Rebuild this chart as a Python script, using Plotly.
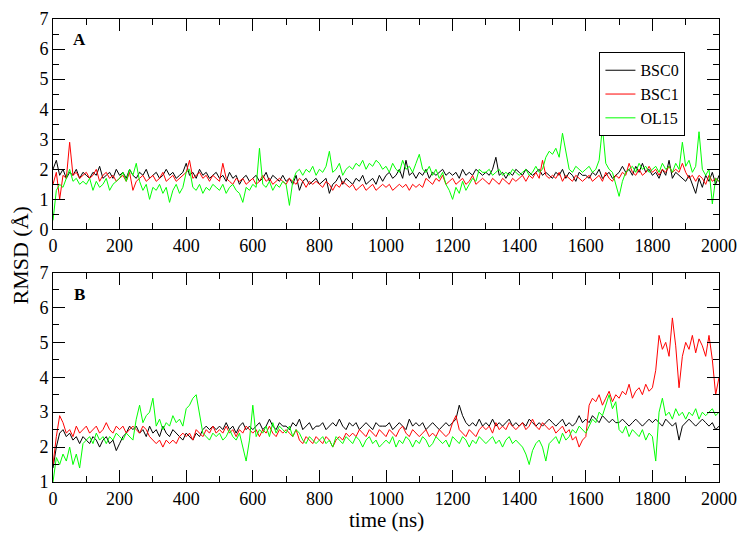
import plotly.graph_objects as go

time_ns = list(range(0, 2001, 10))

a_bsc0 = [
    2.0, 2.3, 1.8, 2.0, 1.7, 1.9, 1.8, 2.0, 1.7, 1.9,
    1.8, 1.7, 1.9, 1.8, 2.1, 1.7, 1.8, 1.9, 1.7, 2.0,
    1.8, 1.9, 1.7, 2.0, 1.8, 1.7, 1.9, 1.8, 2.0, 1.7,
    1.8, 1.9, 1.7, 1.8, 2.0, 1.8, 1.9, 1.7, 1.8, 1.9,
    2.2, 1.8, 1.9, 1.7, 2.0, 1.8, 1.9, 1.7, 1.8, 1.9,
    1.7, 1.8, 1.6, 1.9, 1.7, 1.8, 1.5, 1.7, 1.8, 1.6,
    1.7, 1.8, 1.6, 1.7, 1.9, 1.6, 1.8, 1.7, 1.6, 1.8,
    1.6, 1.7, 1.5, 1.8, 1.3, 1.6, 1.7, 1.5, 1.6, 1.7,
    1.5, 1.6, 1.7, 1.2, 1.5, 1.6, 1.8, 1.5, 1.7, 1.6,
    1.5, 1.7, 1.6, 1.8, 1.5, 1.6, 1.7, 1.5, 1.8, 1.6,
    1.8, 1.9, 1.7, 1.8, 2.0, 1.7, 2.3, 1.8, 1.9, 1.7,
    1.9, 1.8, 2.0, 1.7, 1.9, 1.8, 1.9, 2.0, 1.8, 1.9,
    1.8, 1.9, 1.7, 2.0, 1.8, 1.9, 1.8, 2.0, 1.9, 1.8,
    1.9, 1.8, 2.0, 2.4, 1.8, 1.9, 1.7, 1.9, 1.8, 2.0,
    1.9, 1.8, 2.0, 1.9, 1.8, 1.9, 2.0, 1.8, 1.9, 1.8,
    1.7, 1.9, 1.8, 2.0, 1.7, 1.9, 1.8, 1.6, 1.9, 1.8,
    1.8, 1.7, 1.9, 1.8, 2.0, 1.7, 1.8, 1.9, 1.7, 1.8,
    1.9, 2.1, 1.9, 2.0, 1.8, 2.1, 1.9, 2.2, 1.9, 2.0,
    1.8, 1.9, 1.7, 2.0, 1.8, 2.3, 1.7, 1.9, 1.8, 1.7,
    1.6, 1.8, 1.5, 1.2, 1.7, 1.4, 1.8, 1.6, 1.9, 1.5,
    1.8,
]

a_bsc1 = [
    1.5, 1.9, 1.0, 1.8, 1.7, 2.9, 1.8, 1.9, 1.7, 1.8,
    1.9, 1.7, 1.8, 2.0, 1.6, 1.8, 1.9, 1.7, 1.8, 1.6,
    1.7, 1.8, 1.6, 1.9, 1.3, 1.6, 1.7, 1.8, 1.6, 1.7,
    1.8, 1.6, 1.7, 1.9, 1.6, 1.7, 1.8, 1.6, 1.7, 1.8,
    1.9, 2.3, 1.7, 1.8, 1.9, 1.7, 1.8, 1.6, 1.8, 1.7,
    1.6, 2.2, 1.7, 1.6, 1.5, 1.7, 1.6, 1.7, 1.5, 1.6,
    1.7, 1.5, 1.6, 1.8, 1.6, 1.7, 1.5, 1.6, 1.7, 1.6,
    1.5, 1.7, 1.6, 1.5, 1.7, 1.6, 1.4, 1.6, 1.5, 1.6,
    1.5, 1.4, 1.6, 1.5, 1.3, 1.5, 1.4, 1.6, 1.5, 1.4,
    1.5, 1.3, 1.4, 1.5, 1.3, 1.4, 1.5, 1.3, 1.4, 1.5,
    1.4, 1.5, 1.3, 1.4, 1.5, 1.4, 1.5, 1.3, 1.5, 1.4,
    1.5, 1.4, 1.7, 1.6, 1.5, 1.7, 1.6, 1.8, 1.5, 1.6,
    1.7, 1.5, 1.6, 1.7, 1.5, 1.6, 1.8, 1.5, 1.6, 1.7,
    1.6, 1.5, 1.7, 1.6, 1.5, 1.7, 1.6, 1.5, 1.7, 1.6,
    1.7, 1.8, 1.6, 1.8, 1.7, 1.9, 1.7, 2.3, 1.8, 1.7,
    1.8, 1.7, 1.9, 1.6, 1.8, 1.7, 1.6, 1.8, 1.7, 1.6,
    1.7, 1.8, 1.6, 1.7, 1.8, 1.6, 1.9, 1.7, 1.6, 1.8,
    1.7, 1.9, 1.8, 2.2, 1.9, 1.8, 2.0, 1.8, 1.9, 2.1,
    1.9, 2.0, 1.8, 2.0, 1.9, 2.1, 1.9, 2.0, 1.9, 2.2,
    1.9, 1.7, 1.8, 1.6, 1.8, 1.7, 1.5, 1.8, 1.6, 1.7,
    1.6,
]

a_ol15 = [
    0.3, 1.3, 1.5, 1.4, 1.7, 2.0, 1.6, 1.7, 1.5, 1.6,
    1.5, 1.7, 1.3, 1.6, 1.4, 1.5, 1.7, 1.3, 1.5, 1.6,
    1.7, 1.9, 1.6, 2.0, 1.8, 2.2, 1.6, 1.3, 1.5, 1.0,
    1.4, 1.3, 1.5, 1.2, 1.4, 0.9, 1.3, 1.5, 1.2, 1.4,
    1.9, 2.0, 1.4, 1.3, 1.5, 1.2, 1.4, 1.3, 1.5, 1.4,
    1.3, 1.5, 1.2, 1.4, 1.5, 1.3, 1.2, 0.9, 1.4, 1.3,
    1.5, 1.4, 2.7, 1.5, 1.4, 1.6, 1.3, 1.5, 1.4, 1.6,
    1.5, 0.8, 1.6, 1.9, 2.0, 1.8, 2.0, 1.9, 2.1, 1.8,
    2.0, 1.9, 2.1, 2.6, 1.9, 2.0, 2.2, 1.8, 2.0, 2.1,
    2.0, 2.2, 2.1, 2.3, 2.0, 2.2, 2.1, 2.3, 2.2, 2.0,
    2.1, 1.9, 2.2, 2.0, 1.9, 2.3, 2.0, 2.1, 1.9, 2.2,
    2.5, 2.0, 1.9, 2.1, 1.8, 2.0, 1.7, 1.9, 1.5, 1.3,
    1.0, 1.4, 1.2, 1.6, 1.3, 1.5, 1.7, 1.6, 2.0, 1.9,
    1.9, 2.0, 1.8, 1.9, 2.0, 1.8, 1.9, 1.8, 2.0, 1.9,
    1.8, 1.9, 2.0, 1.8, 1.9, 2.1, 1.9, 2.0, 2.4, 2.6,
    2.5, 2.7, 2.4, 3.2, 2.6, 2.0, 1.9, 2.1, 2.0, 1.9,
    2.0, 2.1, 1.9, 2.0, 2.3, 3.4, 2.2, 2.0, 1.9, 1.5,
    1.1, 1.6, 1.9, 2.0, 2.1, 1.9, 2.2, 2.0, 2.1, 1.9,
    2.0, 2.1, 1.9, 2.2, 2.0, 2.1, 1.9, 2.2, 2.0, 2.9,
    2.1, 2.3, 1.9, 2.1, 3.25, 2.0, 1.8, 2.0, 0.85, 1.7,
    1.6,
]

b_bsc0 = [
    1.4, 2.0, 2.4, 2.5, 2.3, 2.4, 2.2, 2.3, 2.1, 2.3,
    2.2, 2.1, 2.3, 2.2, 2.0, 2.2, 2.3, 2.1, 2.2, 1.9,
    2.1, 2.3, 2.4, 2.6, 2.5, 2.6, 2.4, 2.5, 2.3, 2.6,
    2.4, 2.5, 2.3, 2.6, 2.4, 2.3, 2.5, 2.4, 2.3, 2.2,
    2.4, 2.3, 2.2, 2.4, 2.3, 2.5, 2.6, 2.5, 2.6, 2.5,
    2.6, 2.5, 2.7, 2.5, 2.6, 2.4, 2.6, 2.7, 2.5, 2.6,
    2.5, 2.6, 2.7, 2.5, 2.6, 2.8, 2.6, 2.5, 2.7, 2.6,
    2.6, 2.5, 2.7, 2.6, 2.8, 2.5, 2.6, 2.7, 2.5, 2.6,
    2.6, 2.7, 2.5, 2.6, 2.7, 2.6, 2.8, 2.6, 2.5, 2.7,
    2.6, 2.7, 2.5, 2.6, 2.7, 2.6, 2.5, 2.7, 2.6, 2.6,
    2.6, 2.7, 2.5, 2.6, 2.7, 2.6, 2.5, 2.8, 2.6, 2.7,
    2.6, 2.7, 2.5, 2.6, 2.7, 2.6, 2.5, 2.6, 2.7, 2.6,
    2.7, 2.8, 3.2, 2.9, 2.7, 2.6, 2.7, 2.6, 2.8, 2.6,
    2.7, 2.6, 2.8, 2.6, 2.7, 2.6, 2.7, 2.8, 2.6, 2.7,
    2.6, 2.7, 2.6, 2.8, 2.7, 2.6, 2.7, 2.6, 2.7, 2.8,
    2.7, 2.6, 2.7, 2.8, 2.6, 2.7, 2.6, 2.7, 2.9, 2.7,
    2.8, 2.7, 2.9, 2.8, 2.7, 2.9, 2.8, 2.7, 2.8, 2.7,
    2.7, 2.8, 2.7, 2.6, 2.7, 2.8, 2.7, 2.6, 2.7, 2.8,
    2.7, 2.8, 2.7, 2.6, 2.8, 2.7, 2.6, 2.7, 2.2, 2.6,
    2.7, 2.8, 2.7, 2.6, 2.7, 2.8, 2.7, 2.6, 2.7, 2.5,
    2.6,
]

b_bsc1 = [
    1.5, 2.3, 2.9, 2.7, 2.4, 2.5, 2.3, 2.6, 2.4, 2.5,
    2.6, 2.4, 2.5, 2.6, 2.4, 2.5, 2.7, 2.5, 2.4, 2.6,
    2.5, 2.6, 2.4, 2.5, 2.6, 2.5, 2.4, 2.6, 2.5, 2.3,
    2.2, 2.1, 2.2, 2.0, 2.2, 2.1, 2.2, 2.1, 2.3, 2.4,
    2.3, 2.4, 2.2, 2.5, 2.4, 2.3, 2.5, 2.4, 2.6, 2.4,
    2.5, 2.4, 2.6, 2.4, 2.5, 2.3, 2.5, 2.4, 2.6, 2.5,
    2.4, 2.5, 2.3, 2.5, 2.4, 2.6, 2.4, 2.3, 2.5, 2.4,
    2.5, 2.4, 2.3, 2.5, 2.2, 2.1, 2.3, 2.2, 2.1, 2.3,
    2.2, 2.1, 2.3, 2.2, 2.0, 2.2, 2.3, 2.2, 2.4, 2.3,
    2.4, 2.3, 2.5, 2.4, 2.3, 2.5, 2.4, 2.3, 2.5, 2.4,
    2.3, 2.5, 2.4, 2.3, 2.5, 2.6, 2.4, 2.3, 2.5, 2.4,
    2.3, 2.4, 2.5, 2.3, 2.4, 2.3, 2.5, 2.4, 2.3, 2.4,
    2.7, 2.9, 2.5, 2.4, 2.3, 2.5, 2.4, 2.3, 2.5, 2.6,
    2.5, 2.6, 2.4, 2.7, 2.5, 2.6, 2.5, 2.7, 2.6, 2.5,
    2.6, 2.7, 2.5, 2.6, 2.8, 2.6, 2.5, 2.7, 2.6, 2.5,
    2.6, 2.4, 2.5, 2.6, 2.4, 2.5, 2.2, 2.3, 2.0, 2.2,
    2.3, 3.2, 3.4, 3.3, 3.5, 3.2, 3.4, 3.6, 3.3, 3.5,
    3.4, 3.6, 3.5, 3.8, 3.4, 3.6, 3.7, 3.5, 3.8, 3.6,
    3.7, 4.2, 5.2, 4.8, 5.0, 4.6, 5.7, 4.9, 3.7, 4.6,
    5.0, 4.8, 5.2, 4.7, 5.1, 4.9, 4.6, 5.2, 4.5, 3.5,
    4.0,
]

b_ol15 = [
    1.0, 1.7, 1.5, 1.8, 1.6, 2.0, 1.5, 1.8, 1.4, 2.1,
    2.2, 2.3, 2.1, 2.4, 2.2, 2.3, 2.1, 2.3, 2.2, 2.4,
    2.3, 2.2, 2.4, 2.3, 2.2, 2.8, 3.2, 2.7, 2.9, 3.0,
    3.4, 2.6, 2.8, 2.5, 2.7, 2.6, 2.9, 2.7, 2.8, 2.6,
    3.1, 3.2, 3.4, 3.5, 3.0, 2.4, 2.3, 2.2, 2.4, 2.3,
    2.4, 2.2, 2.3, 2.5, 2.3, 2.2, 2.4, 2.0, 1.6, 2.2,
    3.2, 2.3, 2.5, 2.4, 2.6, 2.3, 2.7, 2.4, 2.6, 2.5,
    2.4, 2.6, 2.3, 2.5, 2.4, 2.2, 2.1, 2.3, 2.2, 2.1,
    2.2, 2.3, 2.1, 2.2, 2.0, 2.3, 2.2, 2.1, 2.3, 2.2,
    2.1, 2.3, 2.2, 2.0, 2.2, 2.3, 2.1, 2.2, 2.0, 2.1,
    2.2, 2.1, 2.3, 2.0, 2.2, 2.1, 2.3, 2.2, 2.0, 2.2,
    2.1, 2.3, 2.2, 2.0, 2.1, 2.3, 2.2, 2.1, 2.2, 2.0,
    2.3, 2.2, 2.1, 2.3, 2.2, 2.0, 2.2, 2.1, 2.3, 2.2,
    2.1, 2.2, 2.3, 2.1, 2.2, 2.0, 2.2, 2.3, 2.1, 2.2,
    2.1, 2.0, 1.8, 1.5, 1.9, 2.1, 2.2, 2.0, 1.6, 2.1,
    2.2, 2.3, 2.1, 2.4, 2.2, 2.3, 2.5, 2.4, 2.6, 2.5,
    2.4, 2.6, 2.8, 2.7, 3.0, 2.9, 3.2, 3.5, 3.1, 3.3,
    2.5, 2.4, 2.6, 2.3, 2.5, 2.4, 2.3, 2.5, 2.2, 2.4,
    2.3, 1.6, 3.0, 3.4, 2.9, 3.0, 2.8, 3.1, 2.9, 3.0,
    2.8, 3.0, 2.9, 3.1, 2.8, 3.0, 2.9, 3.0, 3.1, 2.9,
    3.0,
]

series_names = ["BSC0", "BSC1", "OL15"]
series_colors = ["#000000", "#ff0000", "#00ff00"]
panel_a = [a_bsc0, a_bsc1, a_ol15]
panel_b = [b_bsc0, b_bsc1, b_ol15]

FONT = "'Liberation Serif', 'Times New Roman', Times, serif"

fig = go.Figure()
for name, color, ys in zip(series_names, series_colors, panel_a):
    fig.add_trace(go.Scatter(x=time_ns, y=ys, mode="lines", name=name,
                             line=dict(color=color, width=1),
                             xaxis="x", yaxis="y"))
for name, color, ys in zip(series_names, series_colors, panel_b):
    fig.add_trace(go.Scatter(x=time_ns, y=ys, mode="lines", name=name,
                             line=dict(color=color, width=1), showlegend=False,
                             xaxis="x2", yaxis="y2"))

axis_common = dict(
    showgrid=False, zeroline=False, showline=True, linecolor="black", linewidth=1,
    mirror="ticks", ticks="inside", ticklen=12, tickwidth=1, tickcolor="black",
    tickfont=dict(family=FONT, size=18, color="black"),
)
minor_x = dict(dtick=100, ticks="inside", ticklen=6, tickcolor="black")
minor_y = dict(dtick=0.5, ticks="inside", ticklen=6, tickcolor="black")

fig.update_layout(
    width=746, height=537,
    margin=dict(l=53, r=19, t=9, b=55),
    paper_bgcolor="white", plot_bgcolor="white",
    font=dict(family=FONT, color="black"),
    xaxis=dict(domain=[0, 1], range=[0, 2000], dtick=200, anchor="y",
               minor=minor_x, **axis_common),
    yaxis=dict(domain=[0.5455, 1], range=[0, 7], dtick=1, anchor="x",
               minor=minor_y, **axis_common),
    xaxis2=dict(domain=[0, 1], range=[0, 2000], dtick=200, anchor="y2",
                minor=minor_x, **axis_common),
    yaxis2=dict(domain=[0, 0.4524], range=[1, 7], dtick=1, anchor="x2",
                minor=minor_y, **axis_common),
    legend=dict(x=0.9496, y=0.928, xanchor="right", yanchor="top",
                bordercolor="black", borderwidth=1, bgcolor="white",
                font=dict(family=FONT, size=16), tracegroupgap=0,
                itemwidth=30),
    showlegend=True,
    annotations=[
        dict(text="<b>A</b>", x=0.04, y=0.955, xref="paper", yref="paper",
             showarrow=False, font=dict(family=FONT, size=17), xanchor="center", yanchor="middle"),
        dict(text="<b>B</b>", x=0.04, y=0.405, xref="paper", yref="paper",
             showarrow=False, font=dict(family=FONT, size=17), xanchor="center", yanchor="middle"),
        dict(text="RMSD (Å)", textangle=-90, x=-0.049, y=0.49, xref="paper", yref="paper",
             showarrow=False, font=dict(family=FONT, size=22), xanchor="center", yanchor="middle"),
        dict(text="time (ns)", x=0.5, y=-0.0825, xref="paper", yref="paper",
             showarrow=False, font=dict(family=FONT, size=21), xanchor="center", yanchor="middle"),
    ],
)

fig.write_html("out.html", config={"displayModeBar": False},
               post_script="document.body.style.margin='0px';")
